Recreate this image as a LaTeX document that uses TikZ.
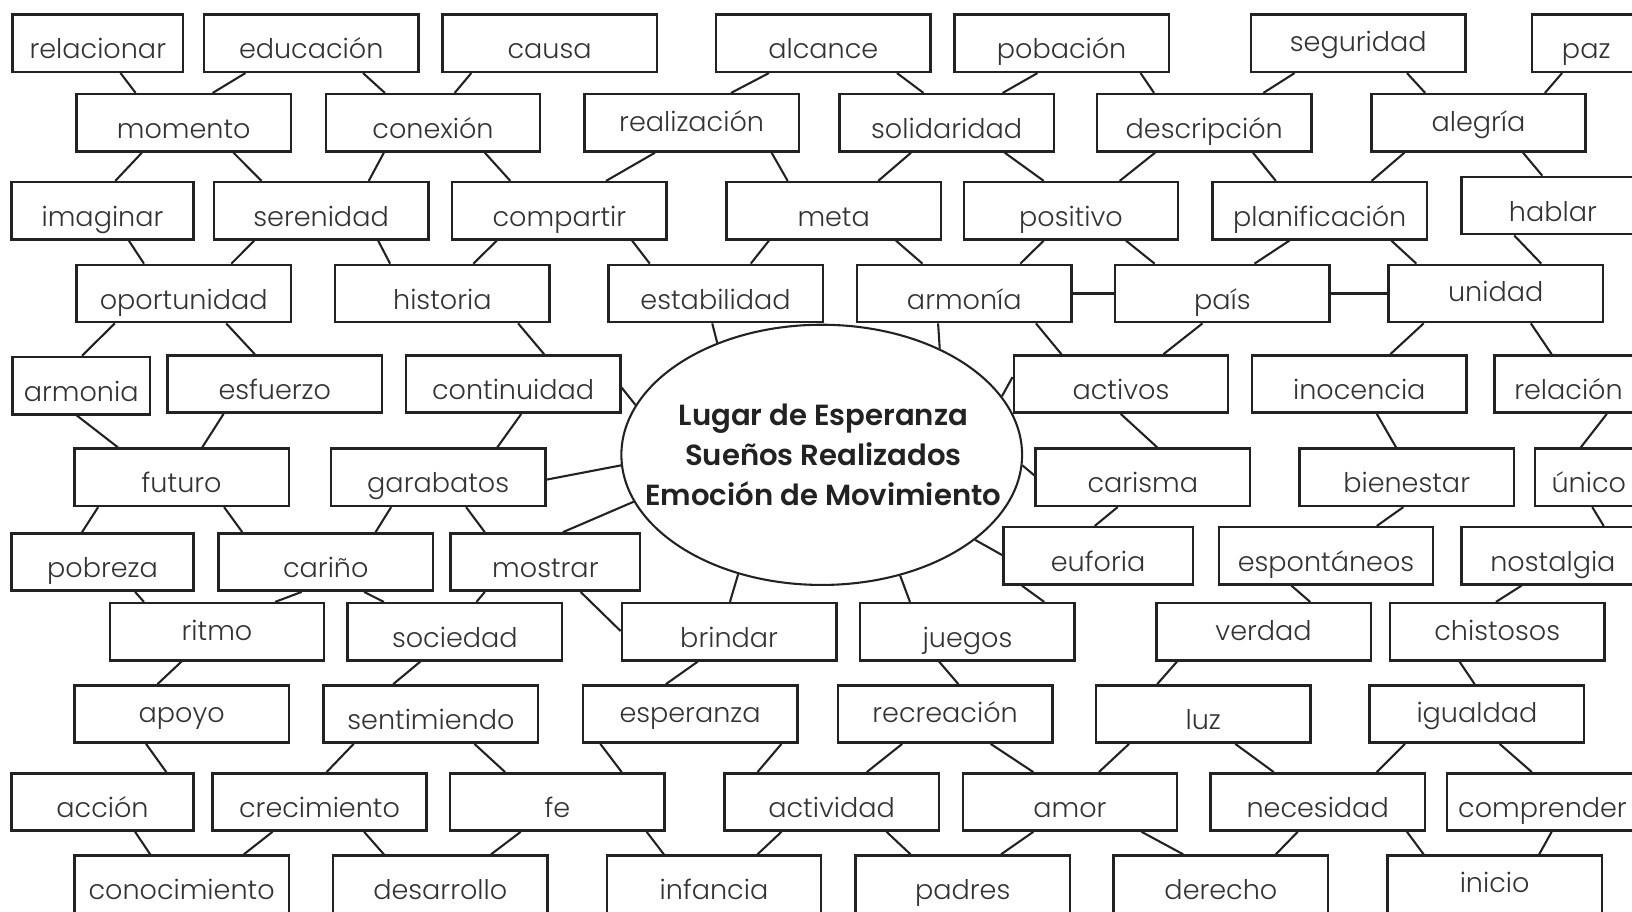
\documentclass[tikz,border=0pt]{standalone}
\usepackage{fontspec}
\setmainfont{Poppins}[UprightFont=* Light, BoldFont=* SemiBold]
\usetikzlibrary{shapes.geometric}
\definecolor{ink}{HTML}{222222}
\definecolor{txt}{HTML}{333333}
\newcommand\cn[4]{\draw[conn] ([xshift=#2pt]#1.south west) -- ([xshift=#4pt]#3.north west);}
\begin{document}
\begin{tikzpicture}[x=1pt,y=-1pt,
  box/.style={draw=ink, line width=2.4pt, rectangle, inner sep=0pt, minimum height=55pt, minimum width=206pt, text=txt, font=\fontsize{26}{30}\selectfont, text height=36pt, text depth=6pt},
  hi/.style={text height=22pt, text depth=6pt},
  conn/.style={draw=ink, line width=2pt},
  hub/.style={ellipse, draw=ink, line width=2pt, minimum width=385pt, minimum height=250pt, inner sep=0pt},
  titletext/.style={align=center, text=ink, font=\bfseries\fontsize{28}{38.5}\selectfont, inner sep=0pt}
]
\useasboundingbox[fill=white] (0,0) rectangle (1568,876);
% Row A
\node[box, minimum width=164pt] (relacionar) at (94,41.5) {relacionar};
\node[box] (educacion) at (299,41.5) {educación};
\node[box] (causa) at (528,41.5) {causa};
\node[box] (alcance) at (791,41.5) {alcance};
\node[box] (pobacion) at (1020,41.5) {pobación};
\node[box, hi] (seguridad) at (1305,41.5) {seguridad};
\node[box, minimum width=104pt] (paz) at (1524,41.5) {paz};
% Row B
\node[box] (momento) at (176.5,118) {momento};
\node[box] (conexion) at (416,118) {conexión};
\node[box, hi] (realizacion) at (664.5,118) {realización};
\node[box] (solidaridad) at (909.5,118) {solidaridad};
\node[box] (descripcion) at (1157,118) {descripción};
\node[box, hi] (alegria) at (1420.5,118) {alegría};
% Row C
\node[box, minimum width=175pt] (imaginar) at (98.5,202.5) {imaginar};
\node[box] (serenidad) at (308.5,202.5) {serenidad};
\node[box] (compartir) at (537.5,202.5) {compartir};
\node[box] (meta) at (801,202.5) {meta};
\node[box] (positivo) at (1029,202.5) {positivo};
\node[box] (planificacion) at (1268,202.5) {planificación};
\node[box, minimum width=176pt] (hablar) at (1492,197.5) {hablar};
% Row D
\node[box] (oportunidad) at (176.5,282) {oportunidad};
\node[box] (historia) at (425,282) {historia};
\node[box] (estabilidad) at (687.5,282) {estabilidad};
\node[box] (armoniaD) at (926.5,282) {armonía};
\node[box] (pais) at (1174.5,282) {país};
\node[box, hi] (unidad) at (1437,282) {unidad};
% Row E
\node[box, minimum width=132pt] (armonia) at (78,370.5) {armonia};
\node[box] (esfuerzo) at (264,369) {esfuerzo};
\node[box] (continuidad) at (493,369) {continuidad};
\node[box] (activos) at (1077,369) {activos};
\node[box] (inocencia) at (1306,369) {inocencia};
\node[box, minimum width=142pt] (relacion) at (1507,369) {relación};
% Row F
\node[box] (futuro) at (174.5,458.5) {futuro};
\node[box] (garabatos) at (421,458.5) {garabatos};
\node[box] (carisma) at (1098,458.5) {carisma};
\node[box] (bienestar) at (1351.5,458.5) {bienestar};
\node[box, minimum width=103pt] (unico) at (1526.5,458.5) {único};
% Row G
\node[box, minimum width=175pt] (pobreza) at (98.5,540) {pobreza};
\node[box] (carino) at (313,540) {cariño};
\node[box, minimum width=182pt] (mostrar) at (524,540) {mostrar};
\node[box, minimum width=182pt] (euforia) at (1055,534) {euforia};
\node[box] (espontaneos) at (1274,534) {espontáneos};
\node[box, minimum width=176pt] (nostalgia) at (1492,534) {nostalgia};
% Row H
\node[box, hi] (ritmo) at (208.5,607) {ritmo};
\node[box] (sociedad) at (437,607) {sociedad};
\node[box] (brindar) at (700.5,607) {brindar};
\node[box] (juegos) at (929.5,607) {juegos};
\node[box, hi] (verdad) at (1214,607) {verdad};
\node[box, hi] (chistosos) at (1438.5,607) {chistosos};
% Row I
\node[box, hi] (apoyo) at (174.5,686) {apoyo};
\node[box] (sentimiendo) at (414,686) {sentimiendo};
\node[box, hi] (esperanza) at (663,686) {esperanza};
\node[box, hi] (recreacion) at (908,686) {recreación};
\node[box] (luz) at (1156,686) {luz};
\node[box, hi] (igualdad) at (1419,686) {igualdad};
% Row J
\node[box, minimum width=175pt] (accion) at (98.5,770.5) {acción};
\node[box] (crecimiento) at (307,770.5) {crecimiento};
\node[box] (fe) at (535.5,770.5) {fe};
\node[box] (actividad) at (799,770.5) {actividad};
\node[box] (amor) at (1028,770.5) {amor};
\node[box] (necesidad) at (1266,770.5) {necesidad};
\node[box, minimum width=184pt] (comprender) at (1482,770.5) {comprender};
% Row K
\node[box] (conocimiento) at (174.5,849.5) {conocimiento};
\node[box] (desarrollo) at (423,849.5) {desarrollo};
\node[box] (infancia) at (686,849.5) {infancia};
\node[box] (padres) at (925,849.5) {padres};
\node[box] (derecho) at (1173,849.5) {derecho};
\node[box, hi] (inicio) at (1436,849.5) {inicio};
% Hub
\node[hub] (ell) at (789.5,437) {};
\node[titletext] (title) at (791,437) {Lugar de Esperanza\\Sueños Realizados\\Emoción de Movimiento};
% Connectors A-B
\cn{relacionar}{105}{momento}{58}
\cn{educacion}{41}{momento}{132}
\cn{educacion}{154}{conexion}{58}
\cn{causa}{29}{conexion}{125}
\cn{alcance}{52}{realizacion}{142}
\cn{alcance}{175}{solidaridad}{82}
\cn{pobacion}{81}{solidaridad}{158}
\cn{pobacion}{180}{descripcion}{56}
\cn{seguridad}{43}{descripcion}{161}
\cn{seguridad}{151}{alegria}{53}
\cn{paz}{30}{alegria}{168}
% B-C
\cn{momento}{64}{imaginar}{101}
\cn{momento}{152}{serenidad}{47}
\cn{conexion}{57}{serenidad}{150}
\cn{conexion}{154}{compartir}{57}
\cn{realizacion}{69}{compartir}{149}
\cn{realizacion}{181}{meta}{60}
\cn{solidaridad}{70}{meta}{147}
\cn{solidaridad}{160}{positivo}{78}
\cn{descripcion}{57}{positivo}{151}
\cn{descripcion}{151}{planificacion}{62}
\cn{alegria}{33}{planificacion}{154}
\cn{alegria}{147}{hablar}{79}
% C-D
\cn{imaginar}{114}{oportunidad}{66}
\cn{serenidad}{40}{oportunidad}{150}
\cn{serenidad}{159}{historia}{54}
\cn{compartir}{44}{historia}{134}
\cn{compartir}{174}{estabilidad}{41}
\cn{meta}{42}{estabilidad}{138}
\cn{meta}{164}{armoniaD}{64}
\cn{positivo}{78}{armoniaD}{158}
\cn{positivo}{157}{pais}{39}
\cn{planificacion}{75}{pais}{135}
\cn{planificacion}{173}{unidad}{28}
\cn{hablar}{52}{unidad}{148}
\draw[conn] (armoniaD) -- (pais);
\draw[conn] (pais) -- (unidad);
% D-E
\cn{oportunidad}{38}{armonia}{68}
\cn{oportunidad}{145}{esfuerzo}{85}
\cn{historia}{177}{continuidad}{134}
\draw[conn] ([xshift=101pt]estabilidad.south west) -- (ell.133.4);
\draw[conn] ([xshift=79pt]armoniaD.south west) -- (ell.42.9);
\cn{armoniaD}{173}{activos}{47}
\cn{pais}{85}{activos}{145}
\cn{unidad}{35}{inocencia}{134}
\cn{unidad}{138}{relacion}{56}
\draw[conn] ([yshift=-32pt]continuidad.north east) -- (ell.165.1);
\draw[conn] ([yshift=-22pt]activos.north west) -- (ell.18);
% E-F
\cn{armonia}{63}{futuro}{43}
\cn{esfuerzo}{55}{futuro}{124}
\cn{continuidad}{112}{garabatos}{161}
\cn{activos}{104}{carisma}{118}
\cn{inocencia}{121}{bienestar}{94}
\cn{relacion}{109}{unico}{45}
\draw[conn] ([yshift=-31pt]garabatos.north east) -- (ell.183.3);
\draw[conn] ([yshift=-27pt]carisma.north west) -- (ell.357.6);
% F-G
\cn{futuro}{24}{pobreza}{69}
\cn{futuro}{145}{carino}{24}
\cn{garabatos}{59}{carino}{152}
\cn{garabatos}{131}{mostrar}{34}
\draw[conn] (ell.194) -- ([xshift=109pt]mostrar.north west);
\cn{carisma}{80}{euforia}{89}
\cn{bienestar}{101}{espontaneos}{153}
\cn{unico}{56}{nostalgia}{138}
\draw[conn] (ell.331.7) -- ([yshift=-28pt]euforia.north west);
% G-H
\cn{pobreza}{120}{ritmo}{34}
\cn{carino}{81}{ritmo}{160}
\cn{carino}{141}{sociedad}{36}
\cn{mostrar}{34}{sociedad}{125}
\draw[conn] ([xshift=126pt]mostrar.south west) -- ([yshift=-28pt]brindar.north west);
\draw[conn] (ell.235.9) -- ([xshift=105pt]brindar.north west);
\draw[conn] (ell.303.5) -- ([xshift=49pt]juegos.north west);
\cn{euforia}{19}{juegos}{178}
\cn{espontaneos}{71}{verdad}{149}
\cn{nostalgia}{59}{chistosos}{103}
% H-I
\cn{ritmo}{70}{apoyo}{81}
\cn{sociedad}{71}{sentimiendo}{68}
\cn{brindar}{74}{esperanza}{81}
\cn{juegos}{77}{recreacion}{117}
\cn{verdad}{21}{luz}{60}
\cn{chistosos}{68}{igualdad}{102}
% I-J
\cn{apoyo}{70}{accion}{150}
\cn{sentimiendo}{30}{crecimiento}{111}
\cn{sentimiendo}{146}{fe}{54}
\cn{esperanza}{18}{fe}{166}
\cn{esperanza}{192}{actividad}{33}
\cn{recreacion}{63}{actividad}{138}
\cn{recreacion}{148}{amor}{69}
\cn{luz}{33}{amor}{132}
\cn{luz}{135}{necesidad}{62}
\cn{igualdad}{35}{necesidad}{161}
\cn{igualdad}{126}{comprender}{83}
% J-K
\cn{accion}{120}{conocimiento}{74}
\cn{crecimiento}{59}{conocimiento}{164}
\cn{crecimiento}{147}{desarrollo}{50}
\cn{fe}{69}{desarrollo}{153}
\cn{fe}{190}{infancia}{56}
\cn{actividad}{56}{infancia}{146}
\cn{actividad}{157}{padres}{54}
\cn{amor}{69}{padres}{141}
\cn{amor}{173}{derecho}{68}
\cn{necesidad}{85}{derecho}{157}
\cn{necesidad}{190}{inicio}{36}
\cn{comprender}{102}{inicio}{147}
\end{tikzpicture}
\end{document}
